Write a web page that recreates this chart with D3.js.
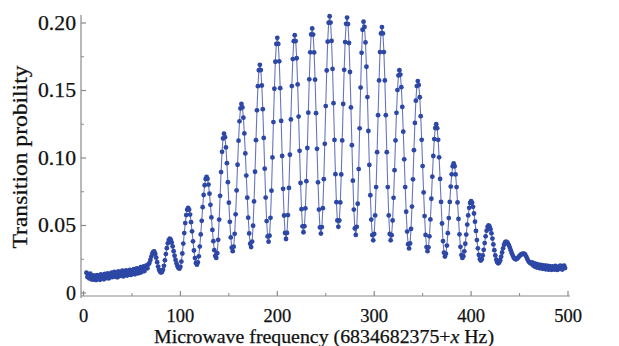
<!DOCTYPE html>
<html>
<head>
<meta charset="utf-8">
<script src="https://cdn.jsdelivr.net/npm/d3@7"></script>
<style>
  html, body { margin: 0; padding: 0; background: #fff; }
  text { font-family: "Liberation Serif", "DejaVu Serif", serif; fill: #111; stroke: #111; stroke-width: 0.25px; }
</style>
</head>
<body>
<div id="chart"></div>
<script>
// sampled microwave detuning, 1 Hz steps starting at 3 Hz
const freqStart = 3;
const freqStep = 1;
const probability = [
  0.0150,0.0118,0.0139,0.0108,0.0143,0.0102,0.0131,0.0099,0.0128,0.0112,
  0.0096,0.0132,0.0104,0.0126,0.0098,0.0137,0.0109,0.0128,0.0102,0.0141,
  0.0110,0.0133,0.0146,0.0108,0.0139,0.0117,0.0150,0.0118,0.0141,0.0156,
  0.0120,0.0146,0.0116,0.0160,0.0126,0.0152,0.0129,0.0165,0.0123,0.0157,
  0.0133,0.0167,0.0129,0.0161,0.0138,0.0172,0.0134,0.0166,0.0143,0.0177,
  0.0139,0.0170,0.0183,0.0145,0.0177,0.0150,0.0191,0.0155,0.0184,0.0197,
  0.0163,0.0193,0.0204,0.0183,0.0212,0.0222,0.0245,0.0270,0.0292,0.0305,
  0.0308,0.0290,0.0262,0.0228,0.0196,0.0172,0.0158,0.0152,0.0156,0.0172,
  0.0201,0.0242,0.0288,0.0332,0.0368,0.0392,0.0402,0.0396,0.0374,0.0345,
  0.0310,0.0276,0.0245,0.0219,0.0199,0.0186,0.0180,0.0194,0.0233,0.0293,
  0.0366,0.0444,0.0518,0.0577,0.0617,0.0630,0.0617,0.0581,0.0525,0.0457,
  0.0383,0.0315,0.0259,0.0223,0.0210,0.0226,0.0272,0.0344,0.0434,0.0535,
  0.0636,0.0726,0.0798,0.0844,0.0860,0.0846,0.0803,0.0736,0.0653,0.0560,
  0.0467,0.0384,0.0317,0.0274,0.0260,0.0295,0.0394,0.0544,0.0720,0.0896,
  0.1046,0.1145,0.1180,0.1154,0.1078,0.0962,0.0821,0.0669,0.0527,0.0412,
  0.0336,0.0310,0.0343,0.0438,0.0583,0.0760,0.0950,0.1128,0.1272,0.1367,
  0.1400,0.1375,0.1299,0.1182,0.1034,0.0870,0.0706,0.0558,0.0441,0.0365,
  0.0340,0.0381,0.0498,0.0678,0.0898,0.1132,0.1353,0.1532,0.1650,0.1690,
  0.1651,0.1537,0.1362,0.1149,0.0921,0.0707,0.0533,0.0419,0.0380,0.0425,
  0.0557,0.0758,0.1004,0.1266,0.1513,0.1713,0.1845,0.1890,0.1845,0.1716,
  0.1517,0.1275,0.1015,0.0772,0.0574,0.0445,0.0400,0.0445,0.0577,0.0778,
  0.1024,0.1286,0.1533,0.1733,0.1865,0.1910,0.1866,0.1739,0.1545,0.1307,
  0.1053,0.0815,0.0621,0.0494,0.0450,0.0495,0.0627,0.0828,0.1074,0.1336,
  0.1583,0.1783,0.1915,0.1960,0.1914,0.1782,0.1580,0.1332,0.1068,0.0820,
  0.0618,0.0486,0.0440,0.0488,0.0628,0.0843,0.1105,0.1385,0.1648,0.1862,
  0.2002,0.2050,0.2003,0.1867,0.1660,0.1406,0.1134,0.0880,0.0673,0.0537,
  0.0490,0.0537,0.0671,0.0878,0.1130,0.1400,0.1653,0.1859,0.1994,0.2040,
  0.1992,0.1852,0.1637,0.1375,0.1095,0.0832,0.0618,0.0478,0.0430,0.0490,
  0.0661,0.0918,0.1220,0.1522,0.1779,0.1950,0.2010,0.1971,0.1856,0.1676,
  0.1451,0.1200,0.0949,0.0724,0.0544,0.0429,0.0390,0.0437,0.0575,0.0785,
  0.1043,0.1317,0.1575,0.1785,0.1923,0.1970,0.1923,0.1785,0.1575,0.1317,
  0.1043,0.0785,0.0575,0.0437,0.0390,0.0428,0.0537,0.0705,0.0910,0.1130,
  0.1335,0.1503,0.1612,0.1650,0.1618,0.1525,0.1378,0.1195,0.0990,0.0785,
  0.0602,0.0455,0.0362,0.0330,0.0367,0.0475,0.0640,0.0842,0.1058,0.1260,
  0.1425,0.1533,0.1570,0.1540,0.1450,0.1310,0.1135,0.0940,0.0745,0.0570,
  0.0430,0.0340,0.0310,0.0338,0.0420,0.0545,0.0698,0.0862,0.1015,0.1140,
  0.1222,0.1250,0.1221,0.1135,0.1005,0.0845,0.0675,0.0515,0.0385,0.0299,
  0.0270,0.0291,0.0351,0.0443,0.0555,0.0675,0.0788,0.0879,0.0939,0.0960,
  0.0939,0.0878,0.0785,0.0671,0.0549,0.0435,0.0342,0.0281,0.0260,0.0273,
  0.0309,0.0365,0.0433,0.0507,0.0575,0.0631,0.0667,0.0680,0.0669,0.0638,
  0.0589,0.0528,0.0460,0.0392,0.0331,0.0282,0.0251,0.0240,0.0250,0.0278,
  0.0320,0.0370,0.0420,0.0462,0.0490,0.0500,0.0493,0.0473,0.0442,0.0403,
  0.0360,0.0317,0.0278,0.0247,0.0227,0.0220,0.0226,0.0243,0.0269,0.0300,
  0.0331,0.0357,0.0374,0.0380,0.0377,0.0368,0.0353,0.0335,0.0315,0.0295,
  0.0277,0.0262,0.0253,0.0250,0.0252,0.0258,0.0266,0.0275,0.0282,0.0287,
  0.0290,0.0291,0.0290,0.0282,0.0268,0.0252,0.0238,0.0228,0.0222,0.0218,
  0.0226,0.0203,0.0219,0.0194,0.0216,0.0188,0.0211,0.0196,0.0183,0.0208,
  0.0201,0.0179,0.0204,0.0184,0.0176,0.0202,0.0181,0.0173,0.0199,0.0180,
  0.0172,0.0197,0.0178,0.0174,0.0200,0.0177,0.0171,0.0196,0.0179,0.0202,
  0.0181,0.0174,0.0198,0.0203,0.0185
];
const xTicks = [0, 100, 200, 300, 400, 500];
const xMinorTicks = [50, 150, 250, 350, 450];
const yTicks = [0, 0.05, 0.10, 0.15, 0.20];
const yMinorTicks = [0.025, 0.075, 0.125, 0.175];
const yTickLabels = ['0', '0.05', '0.10', '0.15', '0.20'];

const width = 619, height = 346;
const axisColor = '#8a8a8a';

const data = probability.map((p, i) => ({ f: freqStart + i * freqStep, p }));

const svg = d3.select('#chart').append('svg')
  .attr('width', width)
  .attr('height', height);

const x = d3.scaleLinear().domain([0, 500]).range([83.5, 568]);
const y = d3.scaleLinear().domain([0, 0.2]).range([293, 23]);

// axes sit slightly off the data origin, like the original figure
const axisX = 81, axisY = 296;

// x axis
svg.append('line')
  .attr('x1', axisX).attr('x2', 570)
  .attr('y1', axisY).attr('y2', axisY)
  .attr('stroke', axisColor).attr('stroke-width', 1.2);
svg.append('g').selectAll('line.major')
  .data(xTicks).enter().append('line')
    .attr('x1', d => x(d)).attr('x2', d => x(d))
    .attr('y1', axisY).attr('y2', axisY - 5)
    .attr('stroke', axisColor).attr('stroke-width', 1.2);
svg.append('g').selectAll('line.minor')
  .data(xMinorTicks).enter().append('line')
    .attr('x1', d => x(d)).attr('x2', d => x(d))
    .attr('y1', axisY).attr('y2', axisY - 3)
    .attr('stroke', axisColor).attr('stroke-width', 1);
svg.append('g').selectAll('text')
  .data(xTicks).enter().append('text')
    .attr('x', d => x(d))
    .attr('y', 322)
    .attr('text-anchor', 'middle')
    .style('font-size', '18.5px')
    .text(d => d);

// y axis
svg.append('line')
  .attr('x1', axisX).attr('x2', axisX)
  .attr('y1', 15).attr('y2', axisY + 2)
  .attr('stroke', axisColor).attr('stroke-width', 1.2);
svg.append('g').selectAll('line.major')
  .data(yTicks).enter().append('line')
    .attr('x1', axisX).attr('x2', axisX + 5)
    .attr('y1', d => y(d)).attr('y2', d => y(d))
    .attr('stroke', axisColor).attr('stroke-width', 1.2);
svg.append('g').selectAll('line.minor')
  .data(yMinorTicks).enter().append('line')
    .attr('x1', axisX).attr('x2', axisX + 3)
    .attr('y1', d => y(d)).attr('y2', d => y(d))
    .attr('stroke', axisColor).attr('stroke-width', 1);
svg.append('g').selectAll('text')
  .data(yTicks).enter().append('text')
    .attr('x', 76)
    .attr('y', d => y(d))
    .attr('dy', '0.33em')
    .attr('text-anchor', 'end')
    .attr('textLength', (d, i) => i === 0 ? null : 38)
    .attr('lengthAdjust', 'spacingAndGlyphs')
    .style('font-size', '20px')
    .text((d, i) => yTickLabels[i]);

// titles
svg.append('text')
  .attr('transform', 'translate(27,157) rotate(-90)')
  .attr('text-anchor', 'middle')
  .attr('textLength', 183)
  .attr('lengthAdjust', 'spacingAndGlyphs')
  .style('font-size', '21px')
  .text('Transition probility');

const xTitle = svg.append('text')
  .attr('x', 324)
  .attr('y', 343)
  .attr('text-anchor', 'middle')
  .attr('textLength', 340)
  .attr('lengthAdjust', 'spacingAndGlyphs')
  .style('font-size', '18px');
xTitle.append('tspan').text('Microwave frequency (6834682375+');
xTitle.append('tspan').style('font-style', 'italic').text('x');
xTitle.append('tspan').text(' Hz)');

// trace
const line = d3.line()
  .x(d => x(d.f))
  .y(d => y(d.p));

svg.append('path')
  .datum(data)
  .attr('fill', 'none')
  .attr('stroke', '#6676bd')
  .attr('stroke-width', 1.1)
  .attr('d', line);

svg.append('g').selectAll('circle')
  .data(data).enter().append('circle')
    .attr('cx', d => x(d.f))
    .attr('cy', d => y(d.p))
    .attr('r', 2.4)
    .attr('fill', '#2d47a6');
</script>
</body>
</html>
